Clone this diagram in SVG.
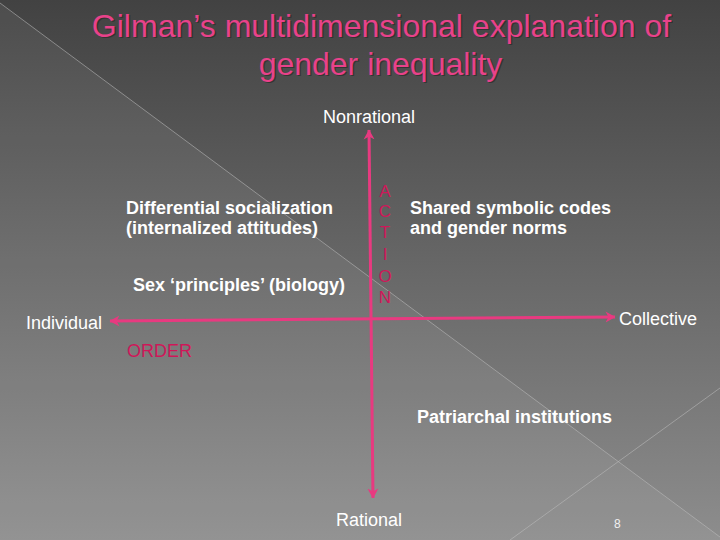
<svg xmlns="http://www.w3.org/2000/svg" width="720" height="540" viewBox="0 0 720 540">
  <defs>
    <linearGradient id="bg" x1="0" y1="0" x2="0" y2="1">
      <stop offset="0" stop-color="#424242"/>
      <stop offset="1" stop-color="#8d8d8d"/>
    </linearGradient>
    <marker id="arrow" viewBox="0 0 10 12" refX="9.5" refY="6" markerWidth="10" markerHeight="12" markerUnits="userSpaceOnUse" orient="auto-start-reverse">
      <path d="M0,0.5 L10,6 L0,11.5 L3,6 Z" fill="#e83a80"/>
    </marker>
    <style>
      .title { font-family: "Liberation Sans", Arial, sans-serif; font-size: 32px; fill: #e8428a; text-anchor: middle; }
      .shadow { font-family: "Liberation Sans", Arial, sans-serif; font-size: 32px; fill: #262626; text-anchor: middle; opacity: 0.6; }
      .lbl { font-family: "Liberation Sans", Arial, sans-serif; font-size: 18px; fill: #ffffff; }
      .bold { font-family: "Liberation Sans", Arial, sans-serif; font-size: 18px; font-weight: bold; fill: #ffffff; }
      .red { font-family: "Liberation Sans", Arial, sans-serif; font-size: 17px; fill: #cf1759; }
      .axis { stroke: #e83a80; stroke-width: 3; fill: none; marker-start: url(#arrow); marker-end: url(#arrow); }
      .deco { stroke: #bdbdbd; stroke-width: 1; opacity: 0.55; fill: none; }
    </style>
  </defs>

  <rect x="0" y="0" width="720" height="540" fill="url(#bg)"/>
  <polygon points="0,3 720,537 720,540 0,540" fill="#ffffff" opacity="0.06"/>
  <line class="deco" x1="0" y1="3" x2="720" y2="537"/>
  <line class="deco" x1="510" y1="540" x2="720" y2="388"/>

  <g id="title">
    <text class="shadow" x="383" y="38">Gilman’s multidimensional explanation of</text>
    <text class="shadow" x="382" y="76">gender inequality</text>
    <text class="title" x="381.5" y="36.5">Gilman’s multidimensional explanation of</text>
    <text class="title" x="380.5" y="74.5">gender inequality</text>
  </g>

  <g id="connectors">
    <line class="axis" x1="373" y1="498" x2="369" y2="130"/>
    <line class="axis" x1="110" y1="321" x2="615" y2="317"/>
  </g>

  <g id="nonrational"><text class="lbl" x="369" y="123" text-anchor="middle">Nonrational</text></g>
  <g id="rational"><text class="lbl" x="336" y="526">Rational</text></g>
  <g id="individual"><text class="lbl" x="26" y="329">Individual</text></g>
  <g id="collective"><text class="lbl" x="619" y="325">Collective</text></g>

  <g id="action">
    <text class="red" x="385" y="197" text-anchor="middle">A</text>
    <text class="red" x="385" y="217" text-anchor="middle">C</text>
    <text class="red" x="385" y="238" text-anchor="middle">T</text>
    <text class="red" x="385" y="260" text-anchor="middle">I</text>
    <text class="red" x="385" y="282" text-anchor="middle">O</text>
    <text class="red" x="385" y="303" text-anchor="middle">N</text>
  </g>
  <g id="order"><text class="red" x="127" y="357" style="font-size:18px">ORDER</text></g>

  <g id="differential-socialization">
    <text class="bold" x="126" y="214">Differential socialization</text>
    <text class="bold" x="126" y="234">(internalized attitudes)</text>
  </g>
  <g id="sex-principles"><text class="bold" x="133" y="291">Sex ‘principles’ (biology)</text></g>
  <g id="shared-codes">
    <text class="bold" x="410" y="214">Shared symbolic codes</text>
    <text class="bold" x="410" y="234">and gender norms</text>
  </g>
  <g id="patriarchal-institutions"><text class="bold" x="417" y="423">Patriarchal institutions</text></g>

  <g id="page-number"><text x="614" y="528" style="font-family:'Liberation Sans',Arial,sans-serif;font-size:12px;fill:#f0f0f0">8</text></g>
</svg>
